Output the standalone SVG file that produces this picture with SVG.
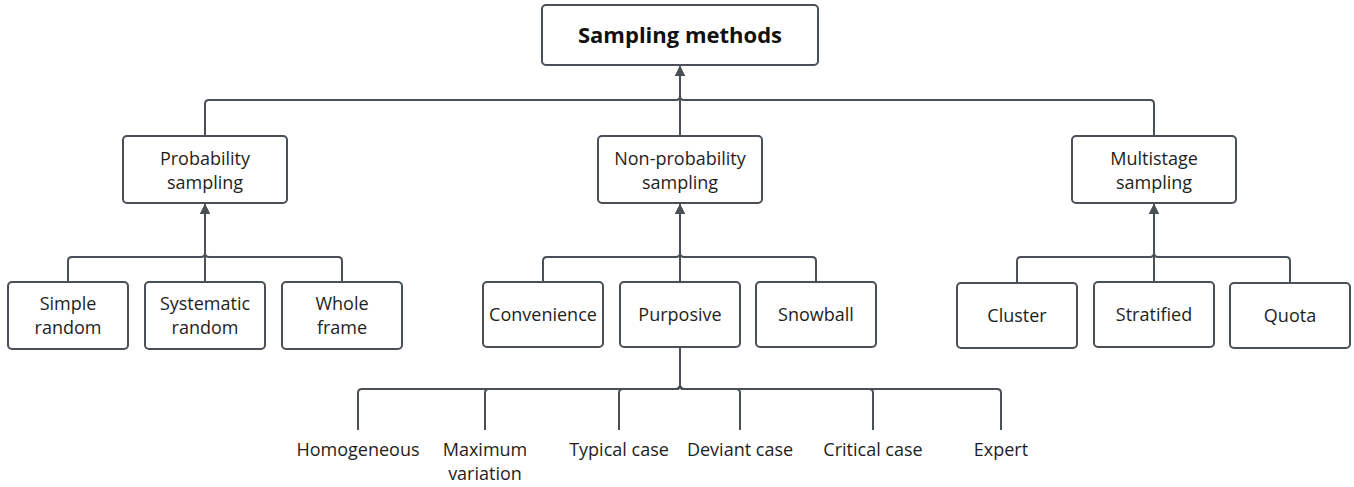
<svg xmlns="http://www.w3.org/2000/svg" width="1354" height="487" viewBox="0 0 1354 487">
<style>
  .box { fill: #ffffff; stroke: #495057; stroke-width: 2; }
  .t { font-family: "Open Sans", "Noto Sans", sans-serif; font-size: 18px; fill: #1e1e1e; text-anchor: middle; }
  .title { font-family: "Open Sans", "Noto Sans", sans-serif; font-size: 22px; font-weight: bold; fill: #111111; text-anchor: middle; }
  .c { fill: none; stroke: #495057; stroke-width: 2; }
  .ca { fill: none; stroke: #495057; stroke-width: 2; marker-end: url(#arr); }
</style>
<defs>
  <marker id="arr" viewBox="0 0 10 10" refX="10" refY="5" markerWidth="10" markerHeight="10" markerUnits="userSpaceOnUse" orient="auto">
    <path d="M0,0 L10,5 L0,10 z" fill="#495057"/>
  </marker>
</defs>
<rect width="1354" height="487" fill="#ffffff"/>
<g id="connectors">
  <!-- top level -->
  <path class="ca" d="M205,136 V104 Q205,100 209,100 H676 Q680,100 680,96 V66"/>
  <path class="ca" d="M680,136 V66"/>
  <path class="ca" d="M1154,136 V104 Q1154,100 1150,100 H684 Q680,100 680,96 V66"/>
  <!-- probability -->
  <path class="ca" d="M68,282 V261 Q68,257 72,257 H201 Q205,257 205,253 V204"/>
  <path class="ca" d="M205,282 V204"/>
  <path class="ca" d="M342,282 V261 Q342,257 338,257 H209 Q205,257 205,253 V204"/>
  <!-- non-probability -->
  <path class="ca" d="M543,282 V261 Q543,257 547,257 H676 Q680,257 680,253 V204"/>
  <path class="ca" d="M680,282 V204"/>
  <path class="ca" d="M816,282 V261 Q816,257 812,257 H684 Q680,257 680,253 V204"/>
  <!-- multistage -->
  <path class="ca" d="M1017,283 V261 Q1017,257 1021,257 H1150 Q1154,257 1154,253 V204"/>
  <path class="ca" d="M1154,282 V204"/>
  <path class="ca" d="M1290,283 V261 Q1290,257 1286,257 H1158 Q1154,257 1154,253 V204"/>
  <!-- purposive children -->
  <path class="c" d="M680,347 V385 Q680,389 676,389 H362 Q358,389 358,393 V430"/>
  <path class="c" d="M680,347 V385 Q680,389 676,389 H489 Q485,389 485,393 V430"/>
  <path class="c" d="M680,347 V385 Q680,389 676,389 H623 Q619,389 619,393 V430"/>
  <path class="c" d="M680,347 V385 Q680,389 684,389 H736 Q740,389 740,393 V430"/>
  <path class="c" d="M680,347 V385 Q680,389 684,389 H869 Q873,389 873,393 V430"/>
  <path class="c" d="M680,347 V385 Q680,389 684,389 H997 Q1001,389 1001,393 V430"/>
</g>
<g id="n-root">
  <rect class="box" x="542" y="5" width="276" height="60" rx="4"/>
  <text class="title" x="680" y="43">Sampling methods</text>
</g>
<g id="n-probability">
  <rect class="box" x="123" y="136" width="164" height="67" rx="4"/>
  <text class="t" x="205" y="165">Probability</text>
  <text class="t" x="205" y="189">sampling</text>
</g>
<g id="n-nonprobability">
  <rect class="box" x="598" y="136" width="164" height="67" rx="4"/>
  <text class="t" x="680" y="165">Non-probability</text>
  <text class="t" x="680" y="189">sampling</text>
</g>
<g id="n-multistage">
  <rect class="box" x="1072" y="136" width="164" height="67" rx="4"/>
  <text class="t" x="1154" y="165">Multistage</text>
  <text class="t" x="1154" y="189">sampling</text>
</g>
<g id="n-simple">
  <rect class="box" x="8" y="282" width="120" height="67" rx="4"/>
  <text class="t" x="68" y="310">Simple</text>
  <text class="t" x="68" y="334">random</text>
</g>
<g id="n-systematic">
  <rect class="box" x="145" y="282" width="120" height="67" rx="4"/>
  <text class="t" x="205" y="310">Systematic</text>
  <text class="t" x="205" y="334">random</text>
</g>
<g id="n-whole">
  <rect class="box" x="282" y="282" width="120" height="67" rx="4"/>
  <text class="t" x="342" y="310">Whole</text>
  <text class="t" x="342" y="334">frame</text>
</g>
<g id="n-convenience">
  <rect class="box" x="483" y="282" width="120" height="65" rx="4"/>
  <text class="t" x="543" y="321">Convenience</text>
</g>
<g id="n-purposive">
  <rect class="box" x="620" y="282" width="120" height="65" rx="4"/>
  <text class="t" x="680" y="321">Purposive</text>
</g>
<g id="n-snowball">
  <rect class="box" x="756" y="282" width="120" height="65" rx="4"/>
  <text class="t" x="816" y="321">Snowball</text>
</g>
<g id="n-cluster">
  <rect class="box" x="957" y="283" width="120" height="65" rx="4"/>
  <text class="t" x="1017" y="322">Cluster</text>
</g>
<g id="n-stratified">
  <rect class="box" x="1094" y="282" width="120" height="65" rx="4"/>
  <text class="t" x="1154" y="321">Stratified</text>
</g>
<g id="n-quota">
  <rect class="box" x="1230" y="283" width="120" height="65" rx="4"/>
  <text class="t" x="1290" y="322">Quota</text>
</g>
<g id="n-homogeneous"><text class="t" x="358" y="456">Homogeneous</text></g>
<g id="n-maxvar">
  <text class="t" x="485" y="456">Maximum</text>
  <text class="t" x="485" y="480">variation</text>
</g>
<g id="n-typical"><text class="t" x="619" y="456">Typical case</text></g>
<g id="n-deviant"><text class="t" x="740" y="456">Deviant case</text></g>
<g id="n-critical"><text class="t" x="873" y="456">Critical case</text></g>
<g id="n-expert"><text class="t" x="1001" y="456">Expert</text></g>
</svg>
